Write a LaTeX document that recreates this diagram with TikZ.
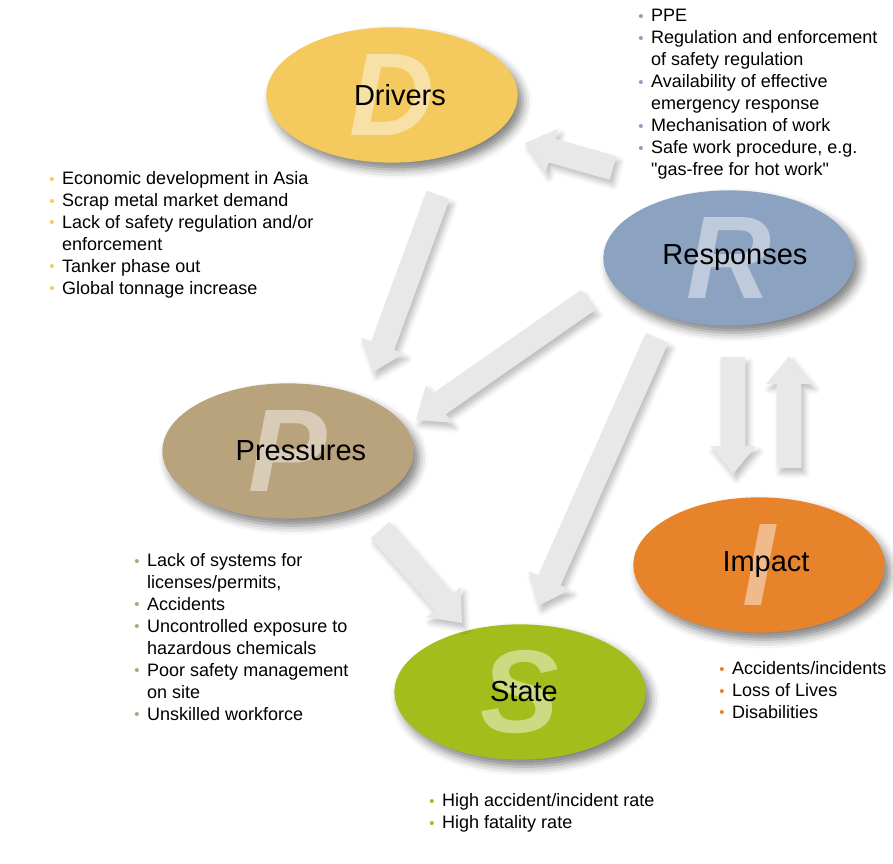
\documentclass[tikz,border=0pt]{standalone}
\usepackage{fontspec}
\setmainfont{Liberation Sans}[Ligatures=TeXOff]
\usetikzlibrary{shapes.geometric,calc,shadows.blur}

\definecolor{drvcol}{HTML}{F4C95D}
\definecolor{rspcol}{HTML}{8BA2C1}
\definecolor{prscol}{HTML}{B8A37C}
\definecolor{impcol}{HTML}{E7832B}
\definecolor{stacol}{HTML}{A3BD1C}
\definecolor{arrcol}{HTML}{E8E8E8}

\newcommand{\bul}[1]{\makebox[7.3pt][l]{\textcolor{#1}{\fontsize{8.5}{8.5}\selectfont\raisebox{.2pt}{•}}}}
\newcommand{\ind}{\hspace*{7.3pt}}
\newcommand{\blockarrow}[2]{%
  \coordinate (hb) at ($(#2)!15.9pt!(#1)$);
  \fill[bigarrow] ($(#1)!7pt!90:(#2)$) -- ($(hb)!7pt!90:(#2)$) -- ($(hb)!13pt!90:(#2)$) -- (#2)
    -- ($(hb)!13pt!-90:(#2)$) -- ($(hb)!7pt!-90:(#2)$) -- ($(#1)!7pt!-90:(#2)$) -- cycle;}

\begin{document}
\begin{tikzpicture}[x=0.02cm, y=-0.02cm,
    stage/.style 2 args={ellipse, fill=#1, minimum width=143pt, minimum height=77pt, inner sep=0pt,
      font=\fontsize{16.5}{18}\selectfont,
      blur shadow={shadow xshift=3pt, shadow yshift=-4pt, shadow blur radius=5pt, shadow opacity=50},
      path picture={\node[text=white, text opacity=.45, font=\fontsize{67}{67}\selectfont\bfseries\itshape]
        at (path picture bounding box.center) {#2};}},
    blist/.style={anchor=north west, inner sep=0pt, align=left, font=\fontsize{10.25}{12.5}\selectfont},
    bigarrow/.style={arrcol, blur shadow={shadow xshift=2pt, shadow yshift=-3pt, shadow blur radius=3pt, shadow opacity=25}}]
    \useasboundingbox (0,0) rectangle (893,864);

    \node[stage={drvcol}{D}] (D) at (392,95) {\hspace{9pt}Drivers};
    \node[stage={rspcol}{R}] (R) at (729,258) {\hspace{6.8pt}Responses};
    \node[stage={prscol}{P}] (P) at (288,451) {\hspace{14.7pt}Pressures};
    \node[stage={impcol}{I}] (I) at (759,565) {\hspace{8pt}Impact};
    \node[stage={stacol}{S}] (S) at (520,692) {\hspace{4.5pt}State};

    \node[blist] (dlist) at (49,171) {\bul{drvcol}Economic development in Asia\\
      \bul{drvcol}Scrap metal market demand\\
      \bul{drvcol}Lack of safety regulation and/or\\
      \ind enforcement\\
      \bul{drvcol}Tanker phase out\\
      \bul{drvcol}Global tonnage increase};
    \node[blist] (rlist) at (638,9) {\bul{rspcol}PPE\\
      \bul{rspcol}Regulation and enforcement\\
      \ind of safety regulation\\
      \bul{rspcol}Availability of effective\\
      \ind emergency response\\
      \bul{rspcol}Mechanisation of work\\
      \bul{rspcol}Safe work procedure, e.g.\\
      \ind "gas-free for hot work"};
    \node[blist] (plist) at (134,553) {\bul{prscol}Lack of systems for\\
      \ind licenses/permits,\\
      \bul{prscol}Accidents\\
      \bul{prscol}Uncontrolled exposure to\\
      \ind hazardous chemicals\\
      \bul{prscol}Poor safety management\\
      \ind on site\\
      \bul{prscol}Unskilled workforce};
    \node[blist] (ilist) at (719,661) {\bul{impcol}Accidents/incidents\\
      \bul{impcol}Loss of Lives\\
      \bul{impcol}Disabilities};
    \node[blist] (slist) at (429,793) {\bul{stacol}High accident/incident rate\\
      \bul{stacol}High fatality rate};

    \coordinate (rd1) at ($(R)+(-116,-90)$);
    \coordinate (rd2) at ($(D)+(133,48)$);
    \coordinate (dp1) at ($(D)+(46,100)$);
    \coordinate (dp2) at ($(P)+(85,-79)$);
    \coordinate (rp1) at ($(R)+(-141,42)$);
    \coordinate (rp2) at ($(P)+(128,-31)$);
    \coordinate (rs1) at ($(R)+(-72,80)$);
    \coordinate (rs2) at ($(S)+(18,-86)$);
    \coordinate (ps1) at ($(P)+(92,79)$);
    \coordinate (ps2) at ($(S)+(-58,-69)$);
    \coordinate (ri1) at ($(R)+(4,99)$);
    \coordinate (ri2) at ($(I)+(-26,-91)$);
    \coordinate (ir1) at ($(I)+(30,-97)$);
    \coordinate (ir2) at ($(R)+(60,98)$);
    \foreach \a/\b in {rd1/rd2, dp1/dp2, rp1/rp2, rs1/rs2, ps1/ps2, ri1/ri2, ir1/ir2}
      \blockarrow{\a}{\b};
\end{tikzpicture}
\end{document}
